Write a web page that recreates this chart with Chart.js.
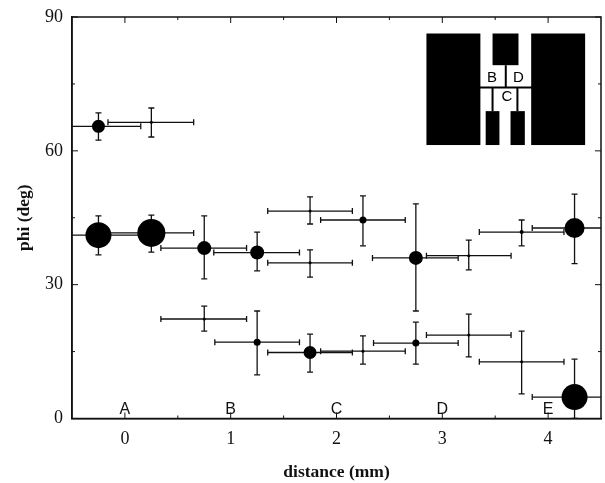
<!DOCTYPE html>
<html>
<head>
<meta charset="utf-8">
<style>html,body{margin:0;padding:0;background:#fff}#w{width:605px;height:483px;position:relative}</style>
<script src="https://cdn.jsdelivr.net/npm/chart.js@4"></script>
</head>
<body>
<div id="w"><canvas id="c" width="605" height="483"></canvas></div>
<script>
// Values
const pointX = [-0.25,0.25,-0.25,0.25,0.75,1.25,1.75,1.75,2.25,2.75,3.25,3.75,4.25,0.75,1.25,1.75,2.25,2.75,3.25,3.75,4.25];
const pointY = [65.5,66.4,41.1,41.6,38.2,37.2,34.9,46.5,44.5,36.0,36.5,41.8,42.7,22.3,17.1,14.8,15.1,16.9,18.7,12.7,4.8];
const xLow   = [-0.65,-0.16,-0.65,-0.16,0.34,0.84,1.35,1.35,1.85,2.34,2.85,3.35,3.85,0.34,0.85,1.35,1.85,2.35,2.85,3.35,3.85];
const xHigh  = [0.15,0.65,0.15,0.65,1.15,1.65,2.15,2.15,2.65,3.15,3.65,4.15,4.65,1.15,1.65,2.15,2.65,3.15,3.65,4.15,4.65];
const yLow   = [62.4,63.1,36.7,37.3,31.3,33.1,31.7,43.6,38.7,24.1,33.3,38.7,34.7,19.6,9.8,10.4,12.2,12.2,13.8,5.5,0];
const yHigh  = [68.5,69.6,45.4,45.6,45.4,41.8,37.8,49.7,49.9,48.1,40.0,44.5,50.3,25.2,24.1,18.9,18.5,21.6,23.4,19.6,13.3];
const markerSize = [6.5,1.5,13,14,7,7,1.5,1.5,3.5,7,1.5,2,10,1.5,3.5,6.5,1.5,3.5,1.5,1.5,13];

const xTicks = [0,1,2,3,4];
const xMinorTicks = [0.5,1.5,2.5,3.5];
const yTicks = [0,30,60,90];
const yMinorTicks = [15,45,75];
const axisLabelX = 'distance (mm)';
const axisLabelY = 'phi (deg)';

const regionLabels = ['A','B','C','D','E'];
const regionX = [0,1,2,3,4];

// Inset diagram, in data units: [x0, x1, y0, y1]
const insetBlocks = [
  [2.85,3.36,61.3,86.3],
  [3.475,3.72,79.2,86.3],
  [3.84,4.35,61.3,86.3],
  [3.41,3.54,61.3,68.9],
  [3.645,3.78,61.3,68.9]
];
const insetLines = [
  [3.27,3.87,74.2,74.2],
  [3.60,3.60,74.2,79.2],
  [3.475,3.475,68.9,74.2],
  [3.71,3.71,68.9,74.2]
];
const insetLetters = [['B',3.47,76.3],['D',3.72,76.3],['C',3.61,72.0],['A',3.27,74.6]];

const ink = '#111';
const datasets = [];
pointX.forEach((x,i)=>{
  datasets.push({type:'line',data:[{x:xLow[i],y:pointY[i]},{x:xHigh[i],y:pointY[i]}],
    borderColor:ink,borderWidth:1.3,pointStyle:'line',rotation:90,pointRadius:3,pointBorderColor:ink,pointBorderWidth:1.3,showLine:true,fill:false,tension:0});
  datasets.push({type:'line',data:[{x:x,y:yLow[i]},{x:x,y:yHigh[i]}],
    borderColor:ink,borderWidth:1.3,pointStyle:'line',rotation:0,pointRadius:3,pointBorderColor:ink,pointBorderWidth:1.3,showLine:true,fill:false,tension:0});
});
datasets.push({type:'scatter',data:pointX.map((x,i)=>({x,y:pointY[i]})),
  backgroundColor:'#000',borderColor:'#000',pointRadius:markerSize,pointStyle:'circle',borderWidth:0,order:-1});

const serif = '"Liberation Serif", serif';

const decor = {
  id:'decor',
  afterDraw(chart){
    const {ctx,scales:{x,y},chartArea:a} = chart;
    ctx.save();
    ctx.strokeStyle = ink; ctx.lineWidth = 1.5;
    ctx.strokeRect(a.left,a.top,a.right-a.left,a.bottom-a.top);
    ctx.lineWidth = 1;
    const tick=(px0,py0,px1,py1)=>{ctx.beginPath();ctx.moveTo(px0,py0);ctx.lineTo(px1,py1);ctx.stroke();};
    xTicks.forEach(v=>{const p=x.getPixelForValue(v);tick(p,a.top,p,a.top+6);tick(p,a.bottom,p,a.bottom-6);});
    xMinorTicks.forEach(v=>{const p=x.getPixelForValue(v);tick(p,a.top,p,a.top+3);tick(p,a.bottom,p,a.bottom-3);});
    yTicks.forEach(v=>{const p=y.getPixelForValue(v);tick(a.left,p,a.left+6,p);tick(a.right,p,a.right-6,p);});
    yMinorTicks.forEach(v=>{const p=y.getPixelForValue(v);tick(a.left,p,a.left+3,p);tick(a.right,p,a.right-3,p);});
    // region letters
    ctx.fillStyle = ink; ctx.textAlign='center'; ctx.textBaseline='alphabetic';
    ctx.font = '16px "Liberation Sans", sans-serif';
    regionLabels.forEach((t,i)=>ctx.fillText(t,x.getPixelForValue(regionX[i]),a.bottom-5));
    // inset
    ctx.fillStyle='#000';
    insetBlocks.forEach(b=>{
      const x0=x.getPixelForValue(b[0]),x1=x.getPixelForValue(b[1]),y0=y.getPixelForValue(b[3]),y1=y.getPixelForValue(b[2]);
      ctx.fillRect(x0,y0,x1-x0,y1-y0);
    });
    ctx.strokeStyle='#000'; ctx.lineWidth=2;
    insetLines.forEach(l=>tick(x.getPixelForValue(l[0]),y.getPixelForValue(l[2]),x.getPixelForValue(l[1]),y.getPixelForValue(l[3])));
    ctx.textBaseline='middle';
    ctx.fillStyle='#000';
    insetLetters.forEach(l=>{ctx.font=(l[0]==='A'?'8px':'15px')+' "Liberation Sans", sans-serif';ctx.fillText(l[0],x.getPixelForValue(l[1]),y.getPixelForValue(l[2]));});
    ctx.restore();
  }
};

new Chart(document.getElementById('c'),{
  type:'scatter',
  data:{datasets},
  plugins:[decor],
  options:{
    responsive:false,animation:false,
    layout:{autoPadding:false,padding:{left:0,top:17,right:4,bottom:0}},
    plugins:{legend:{display:false},tooltip:{enabled:false}},
    scales:{
      x:{type:'linear',min:-0.5,max:4.5,
        afterBuildTicks(s){s.ticks=xTicks.map(value=>({value}));},
        afterFit(s){s.height=64.5;s.paddingLeft=0;s.paddingRight=0;},
        grid:{display:false,drawTicks:false},
        border:{display:true,color:ink,width:1.5},
        ticks:{color:ink,font:{family:serif,size:18},padding:10,maxRotation:0,autoSkip:false,callback:v=>String(v)},
        title:{display:true,text:axisLabelX,color:ink,font:{family:serif,size:17.5,weight:'bold'},padding:{top:10,bottom:0}}
      },
      y:{type:'linear',min:0,max:90,
        afterBuildTicks(s){s.ticks=yTicks.map(value=>({value}));},
        afterFit(s){s.width=72;s.paddingTop=0;s.paddingBottom=0;},
        grid:{display:false,drawTicks:false},
        border:{display:true,color:ink,width:1.5},
        ticks:{color:ink,font:{family:serif,size:18},padding:9,autoSkip:false,callback:v=>String(v)},
        title:{display:true,text:axisLabelY,color:ink,font:{family:serif,size:17.5,weight:'bold'},padding:{top:14,bottom:0}}
      }
    }
  }
});
</script>
</body>
</html>
